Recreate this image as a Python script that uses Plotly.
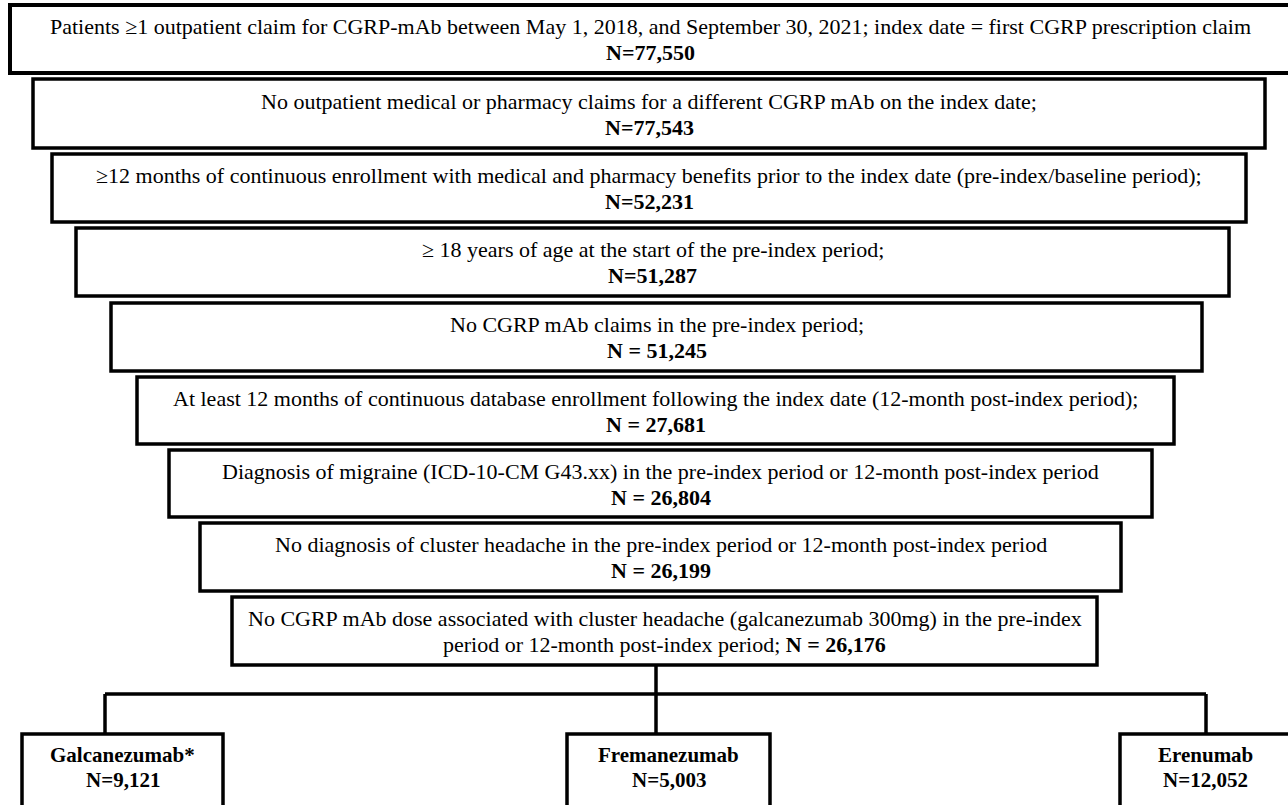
import plotly.graph_objects as go

# ---- data ----
criteria = [
    "Patients ≥1 outpatient claim for CGRP-mAb between May 1, 2018, and September 30, 2021; index date = first CGRP prescription claim",
    "No outpatient medical or pharmacy claims for a different CGRP mAb on the index date;",
    "≥12 months of continuous enrollment with medical and pharmacy benefits prior to the index date (pre-index/baseline period);",
    "≥ 18 years of age at the start of the pre-index period;",
    "No CGRP mAb claims in the pre-index period;",
    "At least 12 months of continuous database enrollment following the index date (12-month post-index period);",
    "Diagnosis of migraine (ICD-10-CM G43.xx) in the pre-index period or 12-month post-index period",
    "No diagnosis of cluster headache in the pre-index period or 12-month post-index period",
    "No CGRP mAb dose associated with cluster headache (galcanezumab 300mg) in the pre-index",
]
second_line_prefix = [""] * 8 + ["period or 12-month post-index period; "]
counts = [77550, 77543, 52231, 51287, 51245, 27681, 26804, 26199, 26176]
count_sep = ["=", "=", "=", "=", " = ", " = ", " = ", " = ", " = "]

treatments = ["Galcanezumab*", "Fremanezumab", "Erenumab"]
treat_counts = [9121, 5003, 12052]

# ---- layout geometry (pixels) ----
box_x = [(10, 1295), (33, 1265), (52, 1246), (76, 1229), (111, 1202),
         (137, 1174), (169, 1152), (200, 1121), (232, 1097)]
box_y = [(5, 73), (79, 148), (154, 222), (228, 296), (303, 371),
         (377, 444), (450, 517), (523, 591), (597, 665)]
tbox_x = [(22, 223), (567, 770), (1120, 1300)]
tbox_top = 734
branch_y = 694
trunk_x = 656
branch_x = [105, 656, 1206]

FONT = "Liberation Serif, Times New Roman, serif"
fig = go.Figure()
shapes = []
annotations = []

for i, (txt, c) in enumerate(zip(criteria, counts)):
    x0, x1 = box_x[i]
    y0, y1 = box_y[i]
    lw = 4 if i == 0 else 3.5
    shapes.append(dict(type="rect", xref="x", yref="y", x0=x0, x1=x1, y0=y0, y1=y1,
                       line=dict(color="black", width=lw), fillcolor="white", layer="below"))
    xc = (x0 + min(x1, 1288)) / 2 + 1 if i == 0 else (x0 + x1) / 2
    yc = (y0 + y1) / 2
    nlab = f"<b>N{count_sep[i]}{c:,}</b>"
    annotations.append(dict(x=xc, y=yc - 12.5, xref="x", yref="y", text=txt,
                            showarrow=False, font=dict(family=FONT, size=22, color="black")))
    annotations.append(dict(x=xc, y=yc + 13.5, xref="x", yref="y",
                            text=second_line_prefix[i] + nlab,
                            showarrow=False, font=dict(family=FONT, size=22, color="black")))

line_style = dict(color="black", width=3.5)
shapes.append(dict(type="line", xref="x", yref="y", x0=trunk_x, x1=trunk_x,
                   y0=box_y[-1][1], y1=branch_y, line=line_style))
shapes.append(dict(type="line", xref="x", yref="y", x0=branch_x[0], x1=branch_x[-1],
                   y0=branch_y, y1=branch_y, line=line_style))
for bx in branch_x:
    shapes.append(dict(type="line", xref="x", yref="y", x0=bx, x1=bx,
                       y0=branch_y, y1=tbox_top, line=line_style))

for i, (name, c) in enumerate(zip(treatments, treat_counts)):
    x0, x1 = tbox_x[i]
    shapes.append(dict(type="rect", xref="x", yref="y", x0=x0, x1=x1, y0=tbox_top, y1=830,
                       line=dict(color="black", width=3.5), fillcolor="white", layer="below"))
    xc = (x0 + x1) / 2 if i < 2 else 1205
    annotations.append(dict(x=xc, y=755, xref="x", yref="y", text=f"<b>{name}</b>",
                            showarrow=False, font=dict(family=FONT, size=21, color="black")))
    annotations.append(dict(x=xc, y=780, xref="x", yref="y", text=f"<b>N={c:,}</b>",
                            showarrow=False, font=dict(family=FONT, size=21, color="black")))

fig.update_layout(
    width=1288, height=805,
    margin=dict(l=0, r=0, t=0, b=0),
    paper_bgcolor="white", plot_bgcolor="white",
    xaxis=dict(range=[0, 1288], visible=False, fixedrange=True),
    yaxis=dict(range=[805, 0], visible=False, fixedrange=True),
    shapes=shapes, annotations=annotations, showlegend=False,
)
fig.write_html("out.html", config={"displayModeBar": False},
               post_script="document.body.style.margin='0';document.body.style.overflow='hidden';")
